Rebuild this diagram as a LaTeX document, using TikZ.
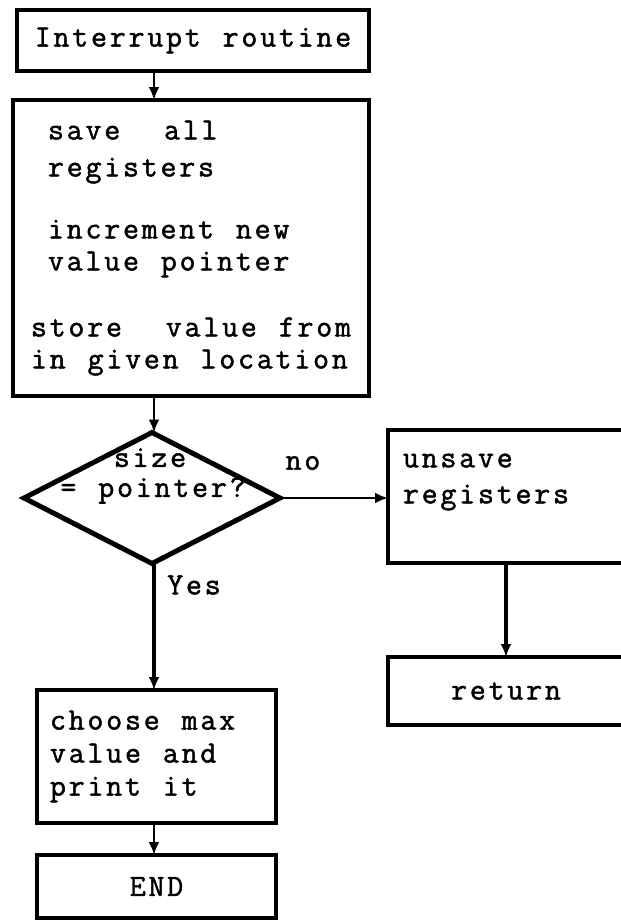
\documentclass[tikz,border=0pt]{standalone}
\usepackage{fontspec}
\setmonofont[LetterSpace=9, WordSpace={1.17,0,0}, FakeBold=1.5]{Latin Modern Mono}
\usetikzlibrary{positioning, arrows.meta, shapes.geometric}

\begin{document}
\begin{tikzpicture}[
  x=0.5pt, y=-0.5pt,
  font=\ttfamily\fontsize{15.5}{16}\selectfont,
  box/.style={draw, line width=1.7pt, inner sep=0pt, outer sep=0pt},
  txtbox/.style={box, align=left},
  dec/.style={draw, diamond, line width=2.5pt, inner sep=0pt, outer sep=0pt, minimum width=128pt, minimum height=65.5pt},
  arr/.style={-{Latex[length=6.5pt,width=5.5pt]}, line width=1.4pt}
]
\path[use as bounding box, fill=white] (0,0) rectangle (621,921);

% Main column
\coordinate (col) at (154,0);
\node[box, minimum width=176pt, minimum height=30.5pt] (top) at (193,40.5) {Interrupt routine};
\node[box, align=left, minimum width=178pt, minimum height=148pt] (main) at (191,248) {%
  \hspace*{8.5pt}save\ \ all\\[2.5pt]
  \hspace*{8.5pt}registers\\[15pt]
  \hspace*{8.5pt}increment new\\
  \hspace*{8.5pt}value pointer\\[17pt]
  store\ \ value from\\
  in given location};

% Decision
\node[dec] (dec) at (152,498) {};
\node[align=left, inner sep=0pt] (dectxt) at (153,476) {\phantom{xxx}size\\[-1pt]= pointer?};
\node (no) at (303,463) {no};
\node (yes) at (194,585) {Yes};

% No branch
\node[txtbox, text width=103pt, inner xsep=7.5pt, minimum height=66.5pt] (unsave) at (506,496.5) {unsave\\[2pt]registers\\[2pt]\mbox{}};
\node[box, minimum width=118pt, minimum height=34pt, below=47pt of unsave] (ret) {return};

% Yes branch
\node[txtbox, minimum width=119.5pt, minimum height=66.5pt] (choose) at (156.5,756.5) {%
  \makebox[106.5pt][l]{choose max}\\[0.5pt]
  value and\\[0.5pt]
  print it};
\node[box, minimum width=119.5pt, minimum height=31.5pt, below=16pt of choose] (theend) {END};

% Links
\draw[arr] (top.south -| col) -- (main.north -| col);
\draw[arr] (main.south -| col) -- (dec.north -| col);
\draw[arr] (dec.east) -- (dec.east -| unsave.west);
\draw[arr, line width=2pt] (unsave.south) -- (ret.north);
\draw[arr, line width=1.8pt] (dec.south -| col) -- (choose.north -| col);
\draw[arr] (choose.south -| col) -- (theend.north -| col);

\end{tikzpicture}
\end{document}
